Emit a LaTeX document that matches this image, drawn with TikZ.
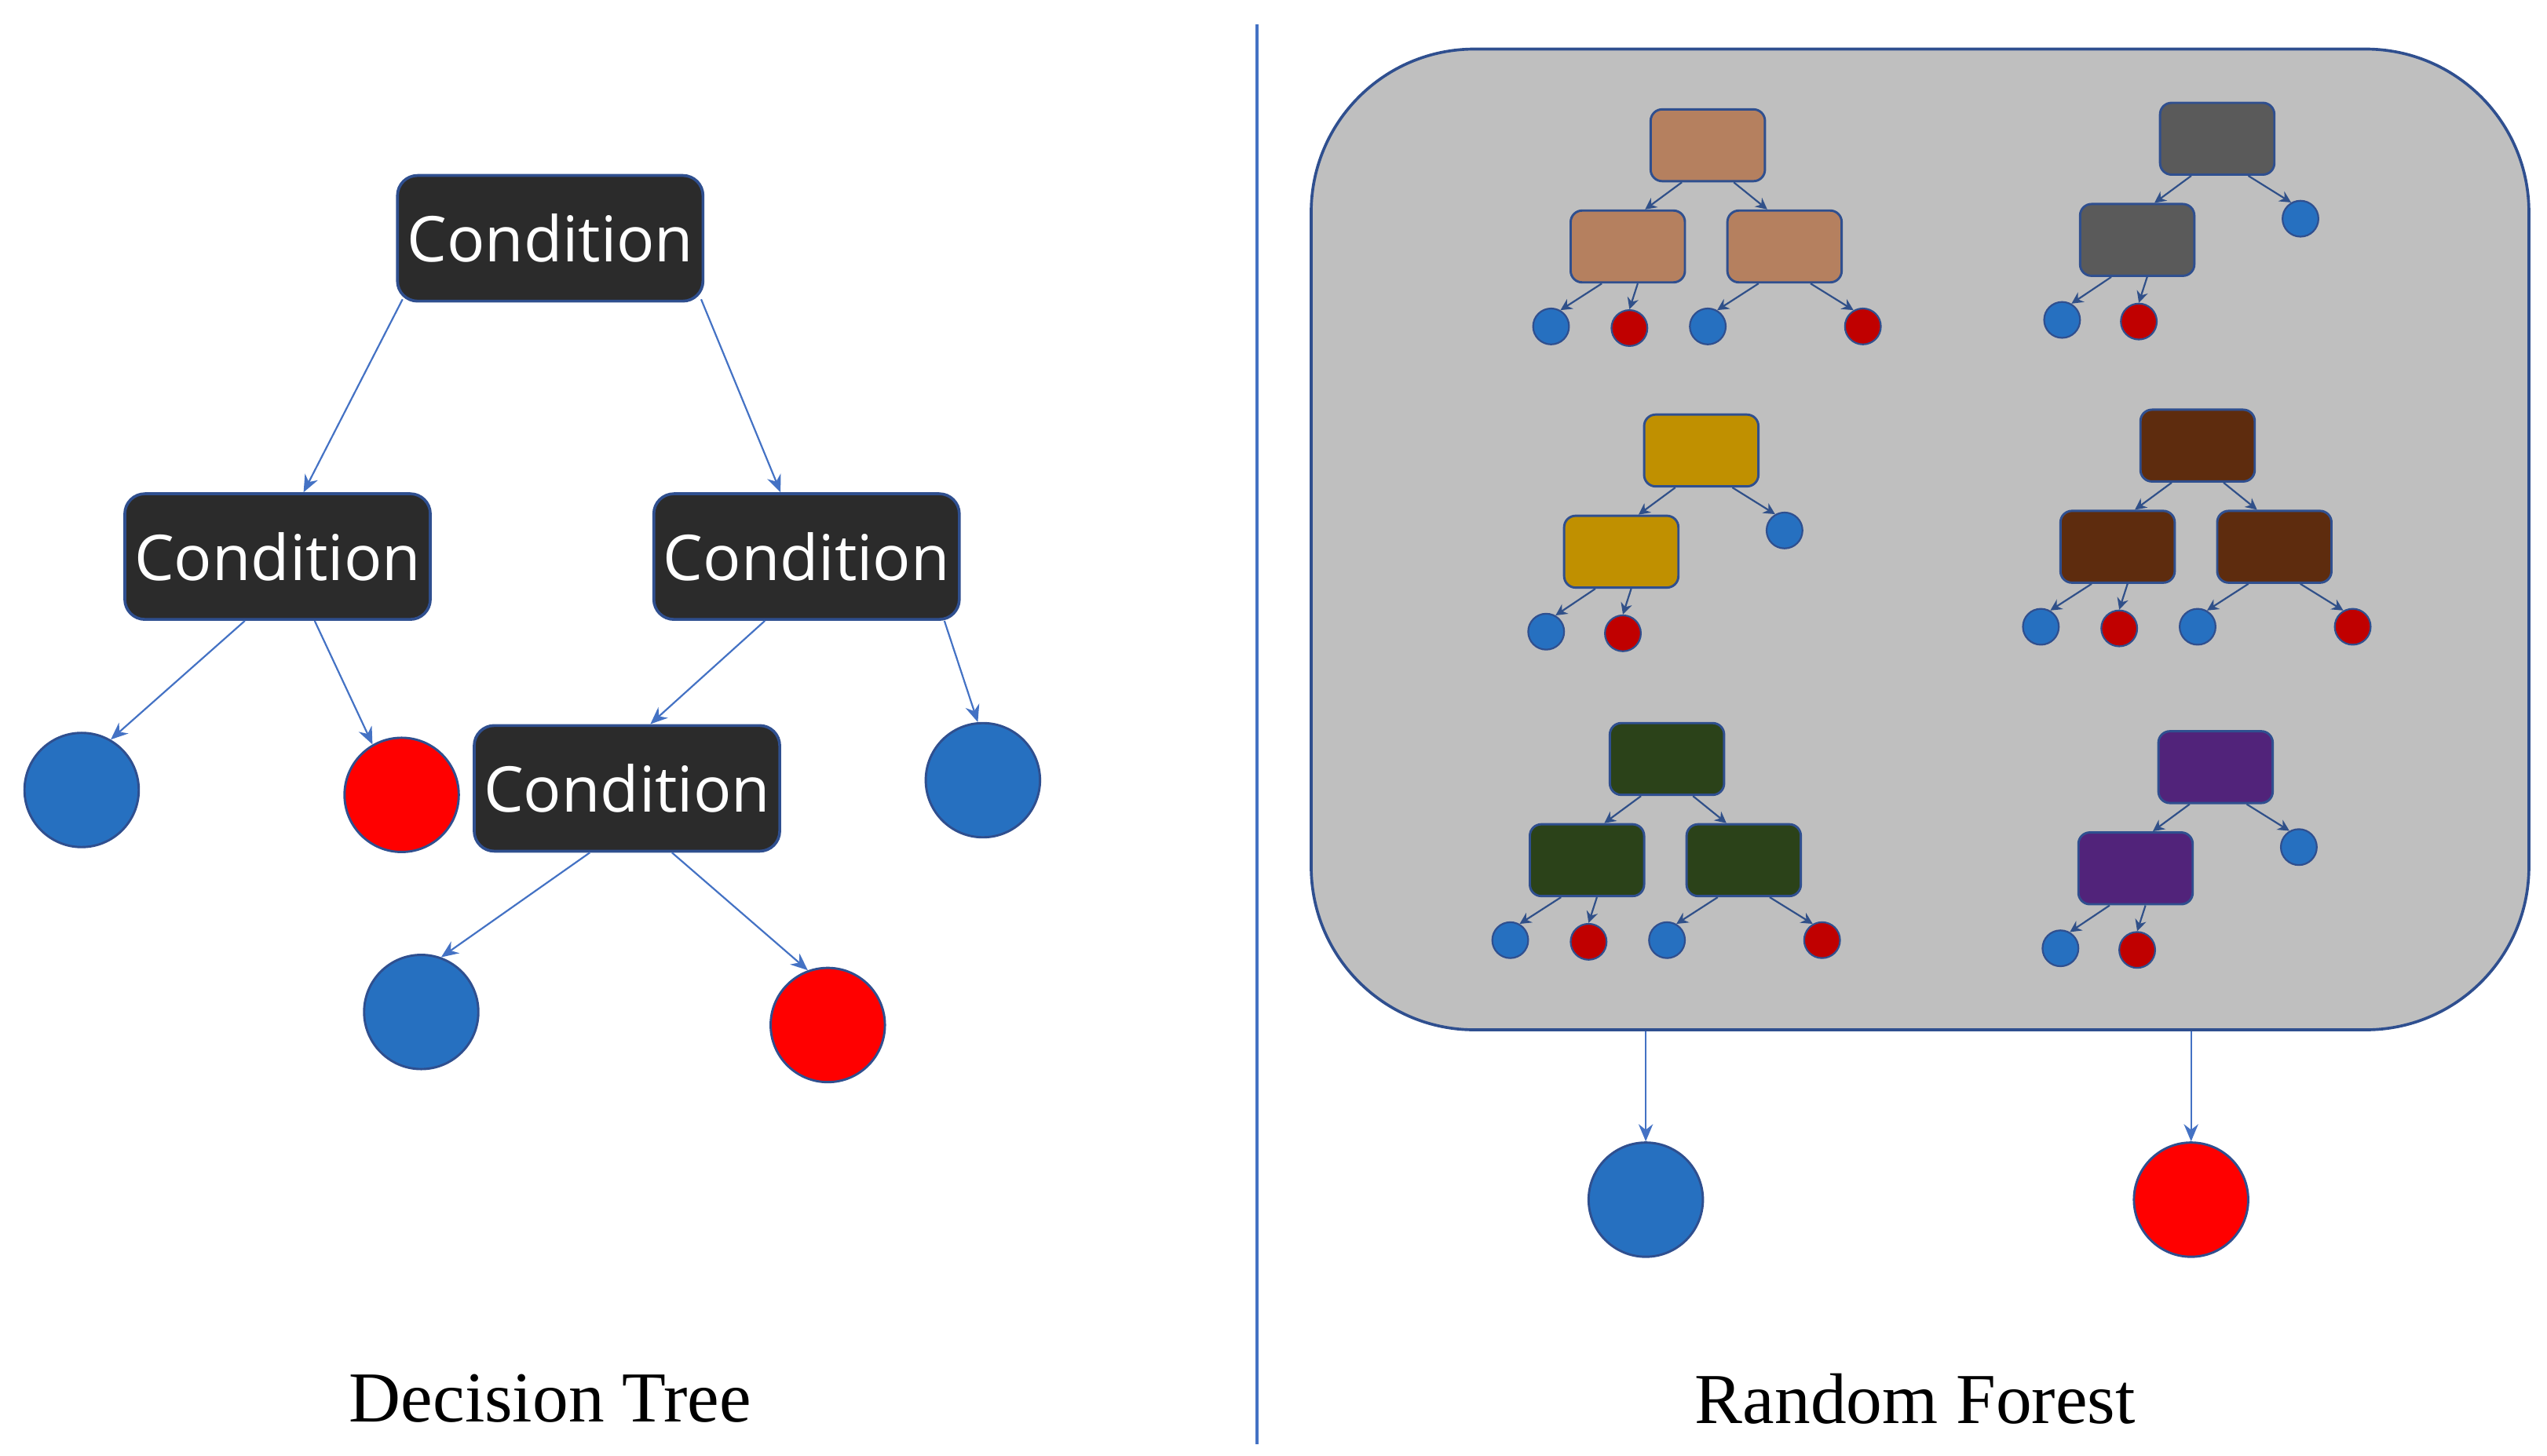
\documentclass[tikz,border=0pt]{standalone}
\usepackage{fontspec}
\setmainfont{Liberation Serif}
\newfontfamily\condfont{Open Sans}
\usetikzlibrary{arrows.meta}
\definecolor{lnc}{HTML}{4472C4}
\definecolor{bdc}{HTML}{2F4F8F}
\definecolor{bluec}{HTML}{2670C0}
\definecolor{redc}{HTML}{FF0000}
\definecolor{dred}{HTML}{C00000}
\definecolor{boxc}{HTML}{2B2B2B}
\begin{document}
\begin{tikzpicture}[x=0.02cm,y=-0.02cm,
  arr/.style={draw=lnc,line width=0.6pt,-{Stealth[length=6pt,width=5pt]}},
  sarr/.style={draw=lnc!70!black,line width=0.6pt,-{Stealth[length=4pt,width=4pt]}},
  cond/.style={draw=bdc,line width=1pt,fill=boxc,rounded corners=7pt,minimum width=2.92cm,minimum height=1.54cm,text=white,font=\condfont\fontsize{22}{26}\selectfont},
  bc/.style={circle,draw=bdc,line width=0.8pt,fill=bluec,minimum size=1.4cm,inner sep=0},
  rc/.style={circle,draw=bdc,line width=0.8pt,fill=redc,minimum size=1.4cm,inner sep=0},
  sb/.style={draw=bdc,line width=0.8pt,rounded corners=4pt,minimum width=1.4cm,minimum height=0.88cm},
  sbc/.style={circle,draw=bdc,line width=0.6pt,fill=bluec,minimum size=0.44cm,inner sep=0},
  src/.style={circle,draw=bdc,line width=0.6pt,fill=dred,minimum size=0.44cm,inner sep=0},
  lab/.style={font=\fontsize{25}{30}\selectfont}]
\useasboundingbox (0,0) rectangle (1560,892);
% left tree
\node[cond] (root) at (337,146) {Condition};
\node[cond] (L) at (170,341) {Condition};
\node[cond] (R) at (494,341) {Condition};
\node[cond] (RL) at (384,483) {Condition};
\node[bc] (c1) at (50,484) {};
\node[rc] (c2) at (246,487) {};
\node[bc] (c3) at (602,478) {};
\node[bc] (c4) at (258,620) {};
\node[rc] (c5) at (507,628) {};
\draw[arr] (root.south west) ++(4,-2) coordinate (a1) -- (L.68);
\draw[arr] (root.south east) ++(-2,-2) coordinate (a2) -- (R.112);
\draw[arr] (L.243) -- (c1.60);
\draw[arr] (L.300) -- (c2.120);
\draw[arr] (R.237) -- (RL.70);
\draw[arr] (R.-25) -- (c3.95);
\draw[arr] (RL.240) -- (c4.70);
\draw[arr] (RL.305) -- (c5.110);
\draw[lnc,line width=1pt] (770,15) coordinate (d1) -- (770,885) coordinate (d2);
\node[lab] (t1) at (337,857) {Decision Tree};
\node[lab] (t2) at (1173,857) {Random Forest};
% forest panel
\node[draw=bdc,line width=1pt,fill={rgb,255:red,191;green,191;blue,191},rounded corners=2cm,minimum width=14.92cm,minimum height=12.02cm] (P) at (1176,330.5) {};
\node[bc] (o1) at (1008,735) {};
\node[rc] (o2) at (1342,735) {};
\draw[arr] (P.south -| o1) -- (o1);
\draw[arr] (P.south -| o2) -- (o2);
% full tree macro
\newcommand{\fulltree}[4]{%
 \node[sb,fill=#4] (#1t) at (#2,#3) {};
 \node[sb,fill=#4] (#1l) at (#2-49,#3+62) {};
 \node[sb,fill=#4] (#1r) at (#2+47,#3+62) {};
 \node[sbc] (#1a) at (#2-96,#3+111) {};
 \node[src] (#1b) at (#2-48,#3+112) {};
 \node[sbc] (#1c) at (#2,#3+111) {};
 \node[src] (#1d) at (#2+95,#3+111) {};
 \draw[sarr] (#1t.235) -- (#1l.65);
 \draw[sarr] (#1t.305) -- (#1r.115);
 \draw[sarr] (#1l.235) -- (#1a.60);
 \draw[sarr] (#1l.285) -- (#1b.north);
 \draw[sarr] (#1r.235) -- (#1c.60);
 \draw[sarr] (#1r.305) -- (#1d.120);}
\newcommand{\halftree}[4]{%
 \node[sb,fill=#4] (#1t) at (#2,#3) {};
 \node[sb,fill=#4] (#1l) at (#2-49,#3+62) {};
 \node[sbc] (#1c) at (#2+51,#3+49) {};
 \node[sbc] (#1a) at (#2-95,#3+111) {};
 \node[src] (#1b) at (#2-48,#3+112) {};
 \draw[sarr] (#1t.235) -- (#1l.65);
 \draw[sarr] (#1t.310) -- (#1c.120);
 \draw[sarr] (#1l.235) -- (#1a.60);
 \draw[sarr] (#1l.285) -- (#1b.north);}
\fulltree{A}{1046}{89}{{rgb,255:red,181;green,128;blue,95}}
\halftree{B}{1358}{85}{{rgb,255:red,90;green,90;blue,90}}
\halftree{C}{1042}{276}{{rgb,255:red,192;green,144;blue,0}}
\fulltree{D}{1346}{273}{{rgb,255:red,94;green,44;blue,14}}
\fulltree{E}{1021}{465}{{rgb,255:red,43;green,66;blue,25}}
\halftree{F}{1357}{470}{{rgb,255:red,81;green,35;blue,122}}
\end{tikzpicture}
\end{document}
